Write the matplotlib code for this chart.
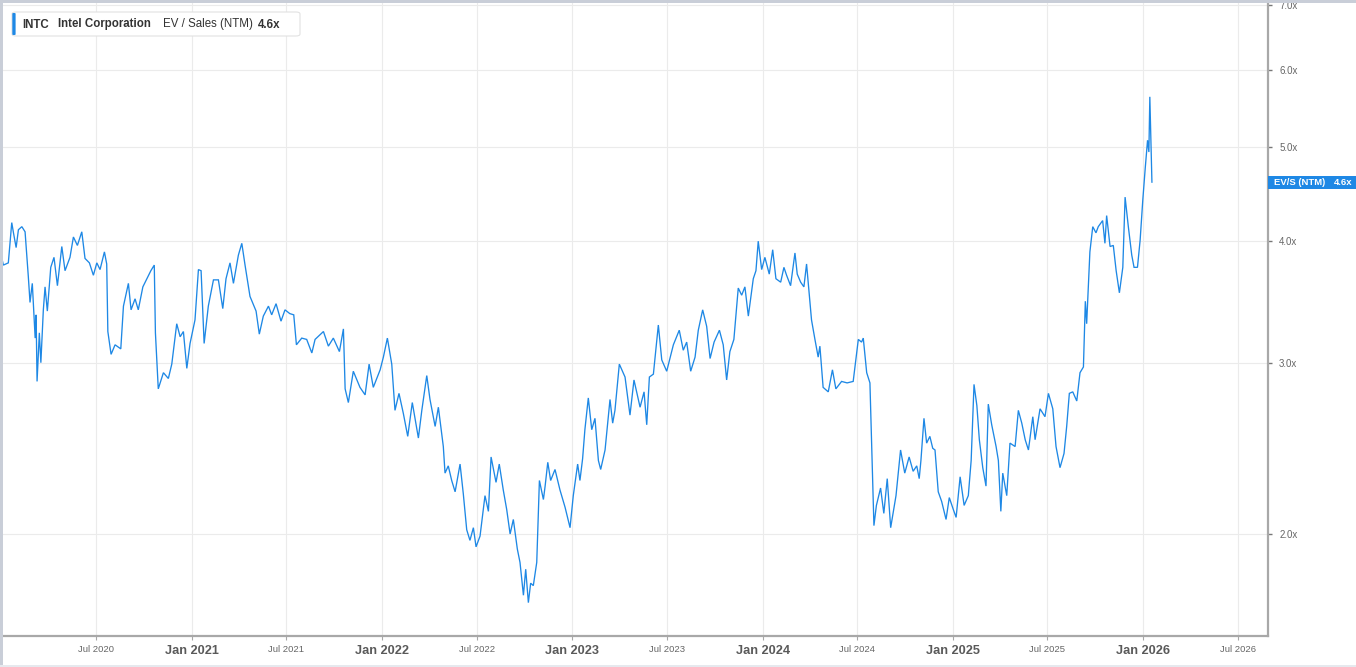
import matplotlib
matplotlib.use("Agg")
import matplotlib.pyplot as plt
from matplotlib.patches import FancyBboxPatch, Rectangle

# INTC EV / Sales (NTM) (decimal year, multiple)
years = [
    2020.002, 2020.010, 2020.036, 2020.054, 2020.063, 2020.077, 2020.089, 2020.107, 2020.124, 2020.141,
    2020.150, 2020.162, 2020.177, 2020.182, 2020.187, 2020.199, 2020.207, 2020.220, 2020.229, 2020.241,
    2020.259, 2020.276, 2020.294, 2020.317, 2020.334, 2020.360, 2020.378, 2020.399, 2020.422, 2020.439,
    2020.462, 2020.483, 2020.501, 2020.518, 2020.541, 2020.553, 2020.559, 2020.576, 2020.597, 2020.627,
    2020.641, 2020.667, 2020.681, 2020.702, 2020.719, 2020.743, 2020.764, 2020.785, 2020.803, 2020.809,
    2020.824, 2020.851, 2020.877, 2020.895, 2020.921, 2020.939, 2020.956, 2020.974, 2020.991, 2021.017,
    2021.035, 2021.049, 2021.065, 2021.087, 2021.114, 2021.140, 2021.163, 2021.180, 2021.201, 2021.219,
    2021.245, 2021.263, 2021.280, 2021.306, 2021.338, 2021.355, 2021.376, 2021.403, 2021.420, 2021.443,
    2021.469, 2021.490, 2021.515, 2021.536, 2021.550, 2021.578, 2021.604, 2021.631, 2021.648, 2021.692,
    2021.718, 2021.744, 2021.776, 2021.797, 2021.806, 2021.823, 2021.849, 2021.884, 2021.911, 2021.932,
    2021.954, 2021.990, 2022.007, 2022.028, 2022.051, 2022.068, 2022.089, 2022.112, 2022.135, 2022.159,
    2022.191, 2022.209, 2022.235, 2022.252, 2022.279, 2022.296, 2022.322, 2022.331, 2022.348, 2022.366,
    2022.384, 2022.410, 2022.427, 2022.445, 2022.462, 2022.480, 2022.494, 2022.515, 2022.541, 2022.559,
    2022.573, 2022.599, 2022.616, 2022.637, 2022.655, 2022.673, 2022.690, 2022.711, 2022.725, 2022.743,
    2022.755, 2022.769, 2022.781, 2022.795, 2022.813, 2022.827, 2022.848, 2022.857, 2022.871, 2022.886,
    2022.909, 2022.935, 2022.962, 2022.988, 2023.005, 2023.028, 2023.040, 2023.054, 2023.066, 2023.084,
    2023.102, 2023.119, 2023.137, 2023.149, 2023.172, 2023.198, 2023.212, 2023.224, 2023.247, 2023.277,
    2023.303, 2023.324, 2023.356, 2023.377, 2023.391, 2023.405, 2023.426, 2023.452, 2023.470, 2023.496,
    2023.531, 2023.562, 2023.583, 2023.601, 2023.622, 2023.645, 2023.662, 2023.685, 2023.706, 2023.724,
    2023.745, 2023.773, 2023.793, 2023.811, 2023.828, 2023.849, 2023.872, 2023.890, 2023.907, 2023.925,
    2023.951, 2023.965, 2023.977, 2023.995, 2024.012, 2024.035, 2024.053, 2024.070, 2024.095, 2024.112,
    2024.126, 2024.147, 2024.170, 2024.182, 2024.200, 2024.217, 2024.231, 2024.257, 2024.275, 2024.292,
    2024.301, 2024.318, 2024.345, 2024.367, 2024.385, 2024.415, 2024.444, 2024.476, 2024.503, 2024.520,
    2024.529, 2024.547, 2024.564, 2024.585, 2024.598, 2024.620, 2024.637, 2024.655, 2024.673, 2024.701,
    2024.725, 2024.747, 2024.770, 2024.791, 2024.810, 2024.823, 2024.832, 2024.848, 2024.862, 2024.879,
    2024.894, 2024.906, 2024.923, 2024.941, 2024.964, 2024.981, 2025.002, 2025.017, 2025.038, 2025.059,
    2025.081, 2025.096, 2025.111, 2025.126, 2025.139, 2025.157, 2025.174, 2025.186, 2025.204, 2025.227,
    2025.239, 2025.252, 2025.262, 2025.283, 2025.300, 2025.327, 2025.344, 2025.362, 2025.380, 2025.397,
    2025.420, 2025.432, 2025.458, 2025.484, 2025.502, 2025.525, 2025.542, 2025.563, 2025.584, 2025.598,
    2025.612, 2025.630, 2025.651, 2025.668, 2025.686, 2025.696, 2025.703, 2025.720, 2025.735, 2025.752,
    2025.764, 2025.787, 2025.799, 2025.808, 2025.826, 2025.843, 2025.858, 2025.875, 2025.893, 2025.905,
    2025.922, 2025.940, 2025.952, 2025.970, 2025.984, 2025.998, 2026.011, 2026.023, 2026.030, 2026.035,
    2026.046,
]
ev_sales = [
    3.84, 3.78, 3.80, 4.18, 4.08, 3.94, 4.11, 4.14, 4.09, 3.68,
    3.46, 3.62, 3.18, 3.36, 2.87, 3.22, 3.00, 3.40, 3.59, 3.39,
    3.76, 3.85, 3.60, 3.95, 3.73, 3.85, 4.04, 3.96, 4.09, 3.84,
    3.80, 3.69, 3.80, 3.74, 3.90, 3.79, 3.23, 3.06, 3.13, 3.10,
    3.43, 3.62, 3.40, 3.49, 3.40, 3.59, 3.66, 3.73, 3.78, 3.22,
    2.82, 2.93, 2.89, 2.99, 3.29, 3.19, 3.23, 2.96, 3.14, 3.32,
    3.74, 3.73, 3.14, 3.43, 3.65, 3.65, 3.41, 3.66, 3.80, 3.62,
    3.87, 3.98, 3.78, 3.51, 3.39, 3.21, 3.35, 3.43, 3.36, 3.45,
    3.31, 3.40, 3.37, 3.36, 3.13, 3.18, 3.17, 3.07, 3.17, 3.23,
    3.12, 3.18, 3.08, 3.25, 2.82, 2.73, 2.94, 2.83, 2.78, 2.99,
    2.83, 2.95, 3.04, 3.18, 2.99, 2.68, 2.79, 2.66, 2.52, 2.73,
    2.51, 2.68, 2.91, 2.75, 2.58, 2.70, 2.46, 2.31, 2.35, 2.27,
    2.21, 2.36, 2.20, 2.02, 1.97, 2.03, 1.94, 1.99, 2.19, 2.11,
    2.40, 2.26, 2.36, 2.22, 2.12, 2.00, 2.07, 1.93, 1.87, 1.73,
    1.84, 1.70, 1.78, 1.77, 1.87, 2.27, 2.17, 2.24, 2.37, 2.27,
    2.33, 2.22, 2.13, 2.03, 2.19, 2.36, 2.27, 2.39, 2.56, 2.76,
    2.56, 2.63, 2.38, 2.33, 2.44, 2.75, 2.60, 2.68, 2.99, 2.90,
    2.65, 2.88, 2.70, 2.80, 2.59, 2.90, 2.92, 3.28, 3.02, 2.94,
    3.13, 3.24, 3.09, 3.15, 2.94, 3.04, 3.24, 3.40, 3.27, 3.03,
    3.15, 3.24, 3.13, 2.88, 3.08, 3.17, 3.58, 3.52, 3.59, 3.35,
    3.66, 3.73, 4.00, 3.74, 3.85, 3.70, 3.92, 3.66, 3.63, 3.76,
    3.69, 3.60, 3.89, 3.70, 3.63, 3.59, 3.79, 3.32, 3.17, 3.04,
    3.12, 2.83, 2.80, 2.95, 2.82, 2.87, 2.86, 2.87, 3.17, 3.15,
    3.18, 2.93, 2.86, 2.04, 2.14, 2.23, 2.10, 2.28, 2.03, 2.19,
    2.44, 2.31, 2.40, 2.32, 2.35, 2.28, 2.38, 2.63, 2.48, 2.52,
    2.45, 2.44, 2.21, 2.16, 2.07, 2.18, 2.12, 2.08, 2.29, 2.14,
    2.19, 2.38, 2.85, 2.71, 2.50, 2.34, 2.24, 2.72, 2.59, 2.46,
    2.38, 2.11, 2.31, 2.19, 2.48, 2.46, 2.68, 2.60, 2.50, 2.44,
    2.64, 2.50, 2.69, 2.64, 2.79, 2.69, 2.46, 2.34, 2.42, 2.58,
    2.79, 2.80, 2.74, 2.93, 2.97, 3.47, 3.29, 3.90, 4.14, 4.08,
    4.14, 4.20, 3.98, 4.25, 3.95, 3.96, 3.73, 3.54, 3.76, 4.44,
    4.14, 3.87, 3.76, 3.76, 4.01, 4.41, 4.76, 5.08, 4.94, 5.63,
    4.60,
]

x_ticks = [2020.497, 2021.0, 2021.497, 2022.0, 2022.497, 2023.0, 2023.497,
           2024.0, 2024.497, 2025.0, 2025.497, 2026.0, 2026.497]
x_labels = ["Jul 2020", "Jan 2021", "Jul 2021", "Jan 2022", "Jul 2022", "Jan 2023", "Jul 2023",
            "Jan 2024", "Jul 2024", "Jan 2025", "Jul 2025", "Jan 2026", "Jul 2026"]
y_ticks = [2.0, 3.0, 4.0, 5.0, 6.0, 7.0]
y_labels = ["2.0x", "3.0x", "4.0x", "5.0x", "6.0x", "7.0x"]

LINE = "#1e88e5"
W, H = 1356, 667
NARROW = ["Liberation Sans Narrow", "Liberation Sans", "DejaVu Sans"]
SANS = ["Liberation Sans", "DejaVu Sans"]


def fx(px):
    return px / W


def fy(py):
    return 1 - py / H


fig = plt.figure(figsize=(W / 100, H / 100), dpi=100, facecolor="white")
ax = fig.add_axes([fx(3), fy(635.7), fx(1268) - fx(3), fy(3) - fy(635.7)])

ax.plot(years, ev_sales, color=LINE, lw=0.95, solid_joinstyle="miter")
ax.set_yscale("log")
ax.set_xlim(2020.008, 2026.656)
ax.set_ylim(1.572, 7.03)

ax.set_xticks(x_ticks)
ax.set_xticklabels(x_labels)
ax.set_yticks(y_ticks)
ax.set_yticklabels(y_labels)
ax.minorticks_off()
ax.yaxis.tick_right()

ax.grid(True, color="#ebebeb", lw=0.8)
ax.set_axisbelow(True)

for side in ["top", "left"]:
    ax.spines[side].set_visible(False)
for side in ["bottom", "right"]:
    ax.spines[side].set_color("#a8a8a8")
    ax.spines[side].set_linewidth(1.6)

ax.tick_params(axis="x", length=3, width=0.8, color="#a8a8a8", pad=4)
ax.tick_params(axis="y", length=3, width=1.0, color="#777777", pad=5,
               labelsize=7, labelcolor="#666666")

for lab in ax.get_xticklabels():
    lab.set_family(NARROW)
    if lab.get_text().startswith("Jan"):
        lab.set_fontsize(9.2)
        lab.set_fontweight("bold")
        lab.set_color("#5a5a5a")
    else:
        lab.set_fontsize(6.8)
        lab.set_color("#666666")
for lab in ax.get_yticklabels():
    lab.set_family(SANS)

# screenshot frame
fig.patches.append(Rectangle((0, fy(2.5)), 1, 2.5 / H, transform=fig.transFigure,
                             color="#c9ced8", lw=0))
fig.patches.append(Rectangle((0, 0), fx(2.5), 1, transform=fig.transFigure,
                             color="#c9ced8", lw=0))
fig.patches.append(Rectangle((0, 0), 1, 2.0 / H, transform=fig.transFigure,
                             color="#e6e9ee", lw=0))

# legend box (top left)
fig.patches.append(FancyBboxPatch((fx(12), fy(36)), fx(300) - fx(12), fy(12) - fy(36),
                                  boxstyle="round,pad=0,rounding_size=0.003",
                                  transform=fig.transFigure, facecolor="white",
                                  edgecolor="#e2e2e2", lw=0.8))
fig.patches.append(FancyBboxPatch((fx(12.3), fy(35)), fx(3.3), fy(13) - fy(35),
                                  boxstyle="round,pad=0,rounding_size=0.001",
                                  transform=fig.transFigure, facecolor=LINE, lw=0))
legend_parts = [(22.3, "INTC", "bold"), (58.3, "Intel Corporation", "bold"),
                (163.3, "EV / Sales (NTM)", "normal"), (258.3, "4.6x", "bold")]
for px, txt, wt in legend_parts:
    fig.text(fx(px), fy(24.5), txt, family=SANS, fontsize=8.3, fontweight=wt,
             color="#333333", va="center", ha="left")

# last value tag on the right axis
fig.patches.append(Rectangle((fx(1268), fy(189)), 1 - fx(1268), fy(176) - fy(189),
                             transform=fig.transFigure, color=LINE, lw=0))
fig.text(fx(1274), fy(182.5), "EV/S (NTM)", family=NARROW, fontsize=6.8, fontweight="bold",
         color="white", va="center", ha="left")
fig.text(fx(1352), fy(182.5), "4.6x", family=NARROW, fontsize=6.8, fontweight="bold",
         color="white", va="center", ha="right")

fig.savefig("out.png", dpi=100, facecolor="white")
